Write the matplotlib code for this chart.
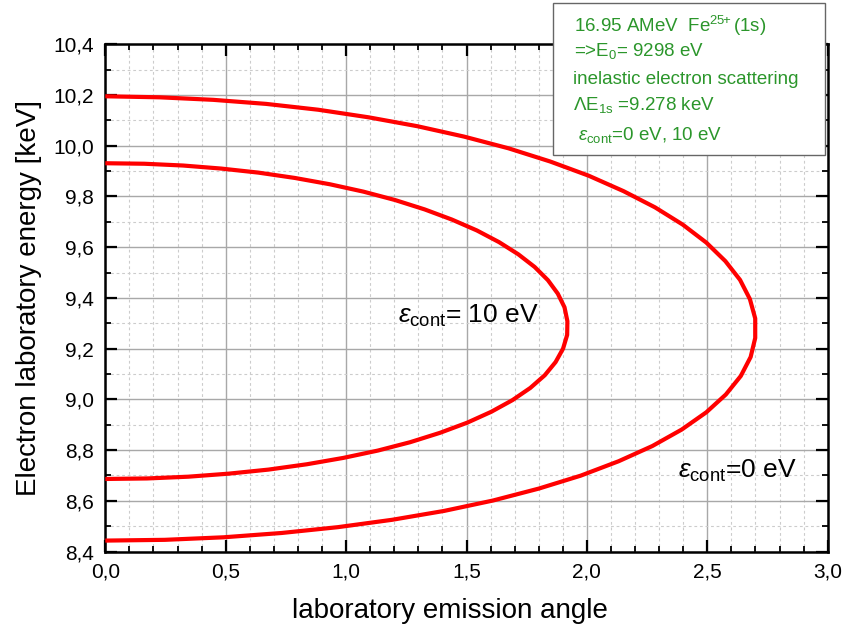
import matplotlib
matplotlib.use("Agg")
import matplotlib.pyplot as plt
from matplotlib.ticker import MultipleLocator, FuncFormatter
from matplotlib.patches import Rectangle

plt.rcParams['font.family'] = ['Liberation Sans', 'DejaVu Sans']
plt.rcParams['mathtext.fontset'] = 'custom'
plt.rcParams['mathtext.rm'] = 'Liberation Sans'
plt.rcParams['mathtext.it'] = 'Liberation Sans:italic'
plt.rcParams['mathtext.bf'] = 'Liberation Sans:bold'

# Kinematic curves: laboratory emission angle (deg) vs. electron lab energy (keV)
angle_0eV = [0.000, 0.225, 0.448, 0.668, 0.884, 1.094, 1.296, 1.490, 1.674, 1.847,
             2.007, 2.152, 2.283, 2.398, 2.496, 2.575, 2.636, 2.677, 2.699, 2.699,
             2.680, 2.639, 2.577, 2.496, 2.394, 2.272, 2.132, 1.974, 1.800, 1.610,
             1.407, 1.191, 0.966, 0.732, 0.491, 0.247, 0.000]
energy_0eV = [10.195, 10.191, 10.181, 10.165, 10.142, 10.112, 10.077, 10.036, 9.990, 9.938,
              9.882, 9.821, 9.757, 9.689, 9.618, 9.545, 9.471, 9.395, 9.319, 9.242,
              9.167, 9.092, 9.019, 8.949, 8.881, 8.816, 8.756, 8.699, 8.648, 8.601,
              8.560, 8.525, 8.496, 8.473, 8.456, 8.446, 8.443]

angle_10eV = [0.000, 0.162, 0.323, 0.481, 0.636, 0.787, 0.933, 1.072, 1.203, 1.326,
              1.439, 1.543, 1.635, 1.715, 1.783, 1.838, 1.879, 1.907, 1.919, 1.918,
              1.901, 1.870, 1.825, 1.765, 1.691, 1.603, 1.503, 1.390, 1.266, 1.132,
              0.988, 0.837, 0.678, 0.513, 0.345, 0.173, 0.000]
energy_10eV = [9.931, 9.929, 9.922, 9.910, 9.894, 9.873, 9.848, 9.819, 9.786, 9.749,
               9.709, 9.666, 9.620, 9.572, 9.522, 9.470, 9.417, 9.363, 9.308, 9.254,
               9.200, 9.147, 9.095, 9.045, 8.997, 8.951, 8.908, 8.868, 8.831, 8.798,
               8.769, 8.744, 8.723, 8.707, 8.695, 8.688, 8.686]

info_lines = [
    r"16.95 AMeV  Fe$^{\mathregular{25}\!\!+}$(1s)",
    r"=>E$_{\mathregular{0}}$= 9298 eV",
    "inelastic electron scattering",
    r"ΛE$_{\mathregular{1s}}$ =9.278 keV",
    r"$\varepsilon_{\mathregular{cont}}$=0 eV, 10 eV",
]

W, H = 847, 632
fig = plt.figure(figsize=(W / 100, H / 100), dpi=100)
ax = fig.add_axes([105.3 / W, 1 - 551.5 / H, (827.7 - 105.3) / W, (551.5 - 44.3) / H])

red = '#ff0000'
for xs, ys in ((angle_0eV, energy_0eV), (angle_10eV, energy_10eV)):
    ax.plot(xs, ys, color=red, lw=3.0, solid_joinstyle='round',
            solid_capstyle='butt', zorder=3)

ax.set_xlim(0, 3.0)
ax.set_ylim(8.4, 10.4)
ax.xaxis.set_major_locator(MultipleLocator(0.5))
ax.xaxis.set_minor_locator(MultipleLocator(0.1))
ax.yaxis.set_major_locator(MultipleLocator(0.2))
ax.yaxis.set_minor_locator(MultipleLocator(0.1))
comma = FuncFormatter(lambda v, p: f"{v:.1f}".replace('.', ','))
ax.xaxis.set_major_formatter(comma)
ax.yaxis.set_major_formatter(comma)

ax.set_axisbelow(True)
ax.grid(which='major', color='#a8a8a8', lw=1.0, ls='-')
ax.grid(which='minor', color='#cccccc', lw=0.8, ls=(0, (2.5, 2.5)))

ax.tick_params(which='major', direction='in', length=8.5, width=1.6,
               top=True, right=True, labelsize=15, pad=8, colors='black')
ax.tick_params(which='minor', direction='in', length=4.5, width=1.3,
               top=True, right=True)
for s in ax.spines.values():
    s.set_linewidth(1.8)

ax.set_xlabel("laboratory emission angle", fontsize=20)
ax.set_ylabel("Electron laboratory energy [keV]", fontsize=20)
ax.xaxis.set_label_coords(0.477, -0.092)
ax.yaxis.set_label_coords(-0.088, 0.5)

ax.text(1.2155, 9.3036, r"$\varepsilon_{\mathregular{cont}}$= 10 eV", fontsize=19,
        va='baseline', ha='left')
ax.text(2.378, 8.691, r"$\varepsilon_{\mathregular{cont}}$=0 eV", fontsize=19,
        va='baseline', ha='left')

# Info box in the upper right corner, drawn over the plot frame
box = Rectangle((553 / W, 1 - 155 / H), (825 - 553) / W, (155 - 3) / H,
                transform=fig.transFigure, facecolor='white', edgecolor='#666666',
                lw=1.0, zorder=10)
fig.add_artist(box)
green = '#2b962b'
baselines = [32, 56, 84, 110, 140]
xstarts = [574, 574, 573, 573, 578]
for txt, yb, xs in zip(info_lines, baselines, xstarts):
    fig.text(xs / W, 1 - yb / H, txt, color=green, fontsize=13.5,
             va='baseline', ha='left', zorder=11)

fig.savefig("out.png", dpi=100)
